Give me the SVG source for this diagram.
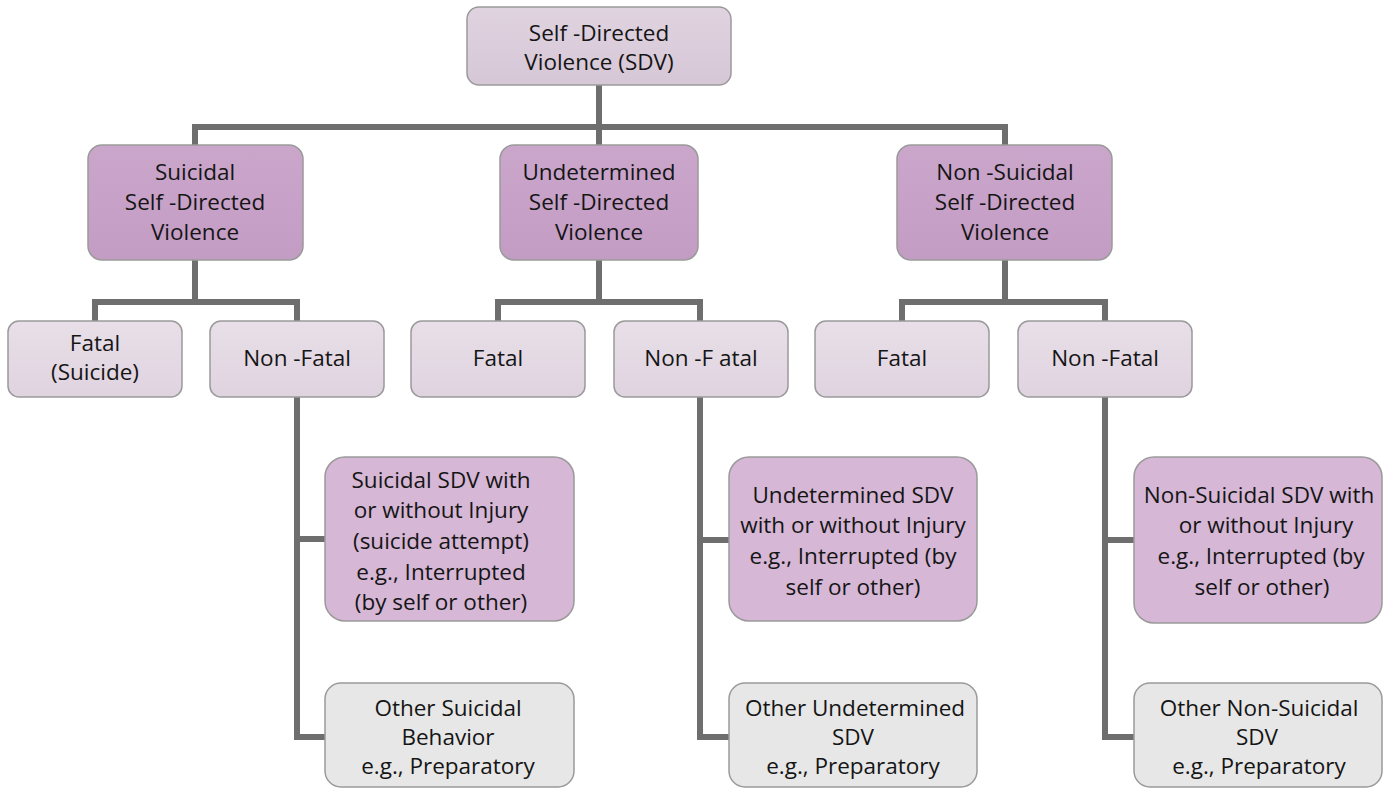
<svg xmlns="http://www.w3.org/2000/svg" width="1387" height="788" viewBox="0 0 1387 788">
<defs>
<linearGradient id="gTop" x1="0" y1="0" x2="0" y2="1"><stop offset="0" stop-color="#e0d3e0"/><stop offset="1" stop-color="#d6c7d6"/></linearGradient>
<linearGradient id="gL2" x1="0" y1="0" x2="0" y2="1"><stop offset="0" stop-color="#cba6cb"/><stop offset="1" stop-color="#c39cc3"/></linearGradient>
<linearGradient id="gL3" x1="0" y1="0" x2="0" y2="1"><stop offset="0" stop-color="#e8dfe8"/><stop offset="1" stop-color="#dfd3df"/></linearGradient>
<style>
.box{stroke:#9a9a9a;stroke-width:1.5}
.top{fill:url(#gTop)}
.l2{fill:url(#gL2)}
.l3{fill:url(#gL3)}
.l4{fill:#d6b7d6}
.gr{fill:#e7e7e7}
.conn{fill:none;stroke:#6e6e6e;stroke-width:6}
text{font-family:"Open Sans","Noto Sans","Liberation Sans",sans-serif;font-size:22.5px;fill:#151515;text-anchor:middle}
</style>
</defs>
<rect width="1387" height="788" fill="#ffffff"/>
<g id="connectors" class="conn">
<path d="M599 85 V127"/>
<path d="M195 145 V127 H1005 V145"/>
<path d="M599 127 V145"/>
<path d="M195 260 V302"/>
<path d="M95 321 V302 H297 V321"/>
<path d="M599 260 V302"/>
<path d="M498 321 V302 H700 V321"/>
<path d="M1005 260 V302"/>
<path d="M902 321 V302 H1105 V321"/>
<path d="M297 397 V737 H325"/>
<path d="M297 539 H325"/>
<path d="M700 397 V737 H729"/>
<path d="M700 540 H729"/>
<path d="M1105 397 V737 H1134"/>
<path d="M1105 540 H1134"/>
</g>
<g id="n-sdv"><rect class="box top" x="467" y="7" width="264" height="78" rx="12"/><text x="599" y="41">Self -Directed</text><text x="599" y="70">Violence (SDV)</text></g>
<g id="n-suicidal"><rect class="box l2" x="88" y="145" width="215" height="115" rx="14"/><text x="195" y="180">Suicidal</text><text x="195" y="210">Self -Directed</text><text x="195" y="240">Violence</text></g>
<g id="n-undetermined"><rect class="box l2" x="500" y="145" width="198" height="115" rx="14"/><text x="599" y="180">Undetermined</text><text x="599" y="210">Self -Directed</text><text x="599" y="240">Violence</text></g>
<g id="n-nonsuicidal"><rect class="box l2" x="897" y="145" width="215" height="115" rx="14"/><text x="1005" y="180">Non -Suicidal</text><text x="1005" y="210">Self -Directed</text><text x="1005" y="240">Violence</text></g>
<g id="n-s-fatal"><rect class="box l3" x="8" y="321" width="174" height="76" rx="11"/><text x="95" y="351">Fatal</text><text x="95" y="380">(Suicide)</text></g>
<g id="n-s-nonfatal"><rect class="box l3" x="210" y="321" width="174" height="76" rx="11"/><text x="297" y="366">Non -Fatal</text></g>
<g id="n-u-fatal"><rect class="box l3" x="411" y="321" width="174" height="76" rx="11"/><text x="498" y="366">Fatal</text></g>
<g id="n-u-nonfatal"><rect class="box l3" x="614" y="321" width="174" height="76" rx="11"/><text x="701" y="366">Non -F atal</text></g>
<g id="n-n-fatal"><rect class="box l3" x="815" y="321" width="174" height="76" rx="11"/><text x="902" y="366">Fatal</text></g>
<g id="n-n-nonfatal"><rect class="box l3" x="1018" y="321" width="174" height="76" rx="11"/><text x="1105" y="366">Non -Fatal</text></g>
<g id="n-s-attempt"><rect class="box l4" x="325" y="457" width="249" height="164" rx="20"/><text x="441" y="488">Suicidal SDV with</text><text x="441" y="518">or without Injury</text><text x="441" y="549">(suicide attempt)</text><text x="441" y="580">e.g., Interrupted</text><text x="441" y="610">(by self or other)</text></g>
<g id="n-u-sdv"><rect class="box l4" x="729" y="457" width="248" height="164" rx="20"/><text x="853" y="503">Undetermined SDV</text><text x="853" y="533">with or without Injury</text><text x="853" y="564">e.g., Interrupted (by</text><text x="853" y="595">self or other)</text></g>
<g id="n-n-sdv"><rect class="box l4" x="1134" y="457" width="248" height="166" rx="20"/><text x="1259" y="503">Non-Suicidal SDV with</text><text x="1266" y="533">or without Injury</text><text x="1261" y="564">e.g., Interrupted (by</text><text x="1262" y="595">self or other)</text></g>
<g id="n-s-other"><rect class="box gr" x="325" y="683" width="249" height="104" rx="16"/><text x="448" y="716">Other Suicidal</text><text x="448" y="745">Behavior</text><text x="448" y="774">e.g., Preparatory</text></g>
<g id="n-u-other"><rect class="box gr" x="729" y="683" width="248" height="104" rx="16"/><text x="855" y="716">Other Undetermined</text><text x="853" y="745">SDV</text><text x="853" y="774">e.g., Preparatory</text></g>
<g id="n-n-other"><rect class="box gr" x="1134" y="683" width="248" height="104" rx="16"/><text x="1259" y="716">Other Non-Suicidal</text><text x="1257" y="745">SDV</text><text x="1259" y="774">e.g., Preparatory</text></g>
</svg>
